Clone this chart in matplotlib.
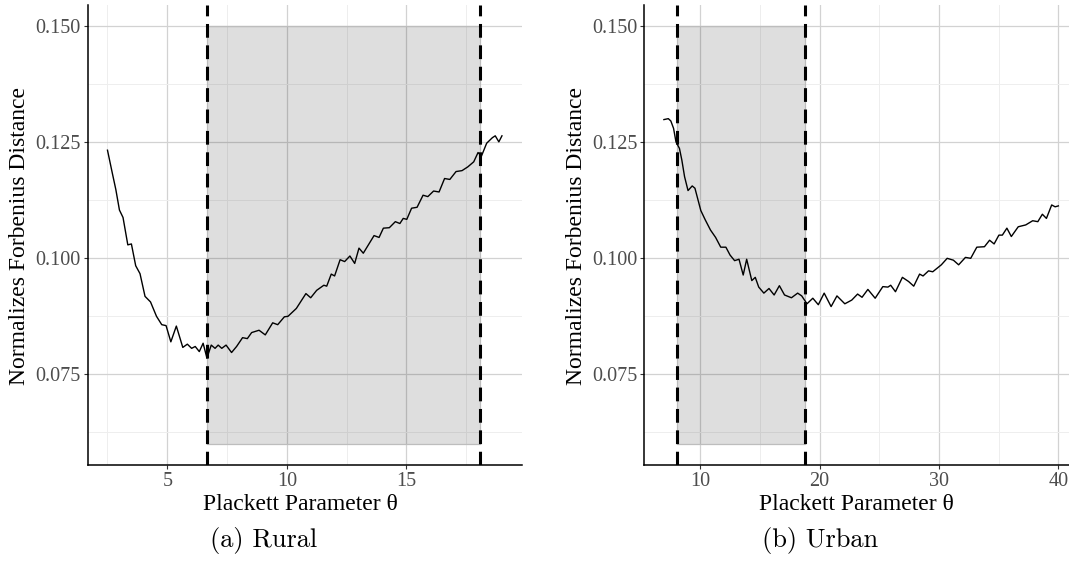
import matplotlib
matplotlib.use("Agg")
import matplotlib.pyplot as plt
from matplotlib.patches import Rectangle

# Rural panel
rural_theta = [2.5, 2.7, 2.85, 3.0, 3.15, 3.35, 3.5, 3.68, 3.86, 4.07, 4.3, 4.55,
               4.77, 4.95, 5.15, 5.38, 5.65, 5.84, 6.02, 6.17, 6.34, 6.5, 6.66,
               6.84, 7.0, 7.13, 7.28, 7.46, 7.69, 7.9, 8.15, 8.35, 8.53, 8.84,
               9.1, 9.41, 9.62, 9.9, 10.05, 10.4, 10.8, 11.0, 11.25, 11.55, 11.67,
               11.86, 12.0, 12.23, 12.42, 12.64, 12.84, 13.02, 13.2, 13.65, 13.86,
               14.04, 14.29, 14.54, 14.73, 14.87, 15.02, 15.22, 15.45, 15.7, 15.9,
               16.14, 16.37, 16.6, 16.82, 17.08, 17.33, 17.57, 17.82, 18.0, 18.14,
               18.36, 18.6, 18.72, 18.87, 19.0]
rural_dist = [0.1233, 0.1184, 0.1148, 0.1104, 0.1088, 0.1029, 0.1031, 0.0984,
              0.0967, 0.0918, 0.0906, 0.0875, 0.0857, 0.0855, 0.0820, 0.0854,
              0.0808, 0.0815, 0.0806, 0.0810, 0.0799, 0.0817, 0.0785, 0.0813,
              0.0806, 0.0813, 0.0806, 0.0813, 0.0797, 0.0810, 0.0829, 0.0827,
              0.0840, 0.0845, 0.0835, 0.0861, 0.0857, 0.0874, 0.0875, 0.0892,
              0.0924, 0.0915, 0.0931, 0.0942, 0.0940, 0.0966, 0.0962, 0.0997,
              0.0993, 0.1005, 0.0989, 0.1022, 0.1011, 0.1049, 0.1045, 0.1065,
              0.1066, 0.1079, 0.1075, 0.1086, 0.1084, 0.1108, 0.1110, 0.1136,
              0.1133, 0.1145, 0.1143, 0.1172, 0.1170, 0.1187, 0.1189, 0.1197,
              0.1208, 0.1228, 0.1220, 0.1248, 0.1260, 0.1264, 0.1251, 0.1264]
rural_lo, rural_hi = 6.68, 18.08

# Urban panel
urban_theta = [6.97, 7.34, 7.55, 7.78, 7.98, 8.27, 8.47, 8.7, 8.99, 9.34, 9.57,
               10.06, 10.43, 10.87, 11.3, 11.73, 12.16, 12.51, 12.89, 13.26, 13.61,
               13.9, 14.33, 14.62, 14.91, 15.34, 15.77, 16.2, 16.64, 17.07, 17.65,
               18.17, 18.51, 18.95, 19.44, 19.9, 20.39, 20.97, 21.46, 22.12, 22.7,
               23.19, 23.56, 24.05, 24.66, 25.3, 25.73, 25.96, 26.36, 26.94, 27.46,
               27.89, 28.38, 28.67, 29.13, 29.48, 30.2, 30.69, 31.21, 31.65, 32.22,
               32.66, 33.17, 33.81, 34.24, 34.62, 35.02, 35.31, 35.69, 36.06, 36.64,
               37.27, 37.85, 38.28, 38.66, 39.0, 39.44, 39.73, 40.0]
urban_dist = [0.1299, 0.1301, 0.1296, 0.1280, 0.1251, 0.1237, 0.1212, 0.1176,
              0.1146, 0.1156, 0.1151, 0.1103, 0.1083, 0.1061, 0.1045, 0.1024,
              0.1024, 0.1007, 0.0995, 0.0998, 0.0964, 0.0998, 0.0952, 0.0959,
              0.0938, 0.0925, 0.0935, 0.0921, 0.0941, 0.0921, 0.0915, 0.0925,
              0.0919, 0.0902, 0.0914, 0.0900, 0.0925, 0.0896, 0.0919, 0.0902,
              0.0910, 0.0923, 0.0916, 0.0933, 0.0914, 0.0939, 0.0938, 0.0942,
              0.0928, 0.0959, 0.0950, 0.0940, 0.0966, 0.0962, 0.0973, 0.0971,
              0.0986, 0.1000, 0.0996, 0.0986, 0.1002, 0.1000, 0.1024, 0.1025,
              0.1039, 0.1031, 0.1050, 0.1050, 0.1065, 0.1047, 0.1068, 0.1072,
              0.1081, 0.1079, 0.1095, 0.1086, 0.1115, 0.1111, 0.1113]
urban_lo, urban_hi = 8.05, 18.75

rect_bottom, rect_top = 0.06, 0.15
y_ticks = [0.075, 0.100, 0.125, 0.150]
y_minor = [0.0625, 0.0875, 0.1125, 0.1375]

serif = ["Liberation Serif", "DejaVu Serif"]

fig = plt.figure(figsize=(10.69, 5.72), dpi=100)


def panel(left, theta, dist, lo, hi, xticks, xminor, caption):
    ax = fig.add_axes([left, 0.1874, 0.4059, 0.8031])
    pad = (max(theta) - min(theta)) * 0.05  # ggplot-style expansion
    ax.set_xlim(min(theta) - pad, max(theta) + pad)
    ax.set_ylim(0.0555, 0.1545)
    ax.set_xticks(xticks)
    ax.set_xticks(xminor, minor=True)
    ax.set_yticks(y_ticks)
    ax.set_yticks(y_minor, minor=True)
    ax.set_xticklabels([str(t) for t in xticks])
    ax.set_yticklabels(["%.3f" % t for t in y_ticks])
    ax.grid(which="major", color="#d2d2d2", lw=0.9, zorder=0)
    ax.grid(which="minor", color="#eeeeee", lw=0.7, zorder=0)
    ax.set_axisbelow(True)
    for s in ["top", "right"]:
        ax.spines[s].set_visible(False)
    for s in ["left", "bottom"]:
        ax.spines[s].set_linewidth(1.1)
    ax.tick_params(which="major", length=3, width=0.8, color="#333333",
                   labelcolor="#4d4d4d", labelsize=14.5, pad=2)
    ax.tick_params(which="minor", length=0)
    for lab in ax.get_xticklabels() + ax.get_yticklabels():
        lab.set_family(serif)

    # shaded band and its outline
    ax.add_patch(Rectangle((lo, rect_bottom), hi - lo, rect_top - rect_bottom,
                           facecolor="black", alpha=0.13, edgecolor="none", zorder=1))
    ax.add_patch(Rectangle((lo, rect_bottom), hi - lo, rect_top - rect_bottom,
                           facecolor="none", edgecolor="#bdbdbd", lw=0.9, zorder=1))
    ax.plot(theta, dist, color="black", lw=1.0, zorder=3)
    for v in (lo, hi):
        ax.axvline(v, color="black", lw=2.2, ls=(0, (4.5, 2.5)), zorder=4)

    fig.text(left + 0.1987, 1 - 505 / 572, "Plackett Parameter θ",
             ha="center", va="center", fontsize=17, family=serif)
    fig.text(left - 0.0634, 1 - 236 / 572, "Normalizes Forbenius Distance",
             rotation=90, ha="center", va="center", fontsize=17, family=serif)
    fig.text(left + 0.1648, 1 - 541 / 572, caption, ha="center", va="center",
             fontsize=19, family="cmr10")
    return ax


panel(0.0821, rural_theta, rural_dist, rural_lo, rural_hi,
      [5, 10, 15], [2.5, 7.5, 12.5, 17.5], "(a) Rural")
panel(0.6026, urban_theta, urban_dist, urban_lo, urban_hi,
      [10, 20, 30, 40], [15, 25, 35], "(b) Urban")

fig.savefig("out.png", dpi=100)
